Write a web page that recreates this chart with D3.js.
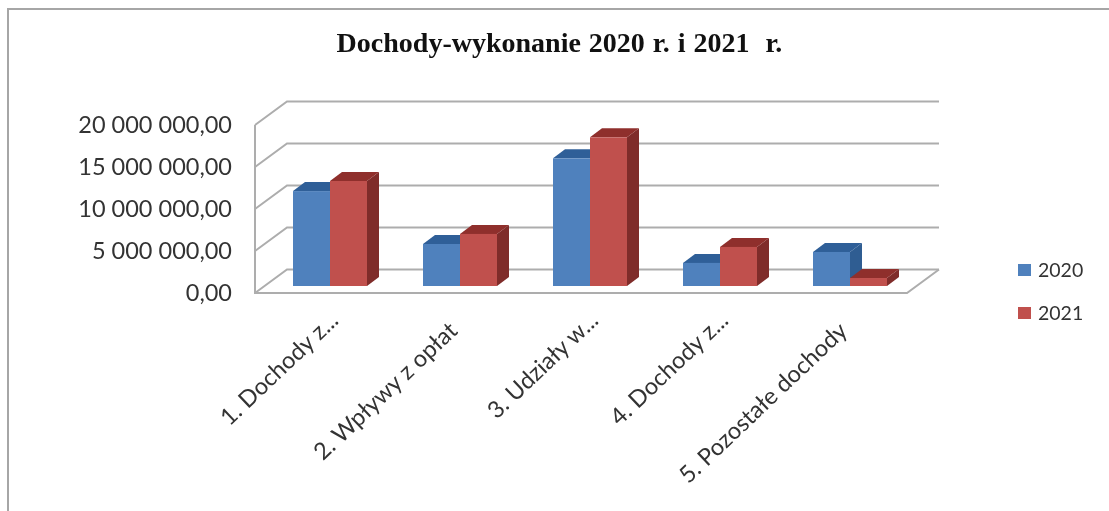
<!DOCTYPE html>
<html>
<head>
<meta charset="utf-8">
<script src="https://cdn.jsdelivr.net/npm/d3@7"></script>
<style>
  html, body { margin: 0; padding: 0; background: #fff; }
  svg { display: block; filter: blur(0.7px); }
  text { font-family: Lato, "Open Sans", sans-serif; fill: #333; }
</style>
</head>
<body>
<div id="container"></div>
<script>
"use strict";

const plotWidth = 1109;
const plotHeight = 511;

const categories = ["1. Dochody z...", "2. Wpływy z opłat", "3. Udziały w...", "4. Dochody z...", "5. Pozostałe dochody"];
const seriesNames = ["2020", "2021"];
const values2020 = [11300000, 5000000, 15200000, 2750000, 4050000];
const values2021 = [12500000, 6200000, 17700000, 4650000, 950000];
const yTicks = [0, 5000000, 10000000, 15000000, 20000000];

const seriesColors = ["#4f81bd", "#c0504d"];
const sideColors = ["#2f5d92", "#7f2c2a"];
const topColors = ["#2f5f98", "#8f2f2c"];
const gridColor = "#adadad";

// depth of the floor and of the bars
const wallDx = 32;
const wallDy = -23.5;
const barDx = 12;
const barDy = -9;
const barShiftX = 10;
const barShiftY = -7;

const svg = d3.select("#container").append("svg")
  .attr("width", plotWidth)
  .attr("height", plotHeight);

// picture frame
svg.append("path")
  .attr("d", `M8,${plotHeight} V9 H${plotWidth}`)
  .attr("fill", "none")
  .attr("stroke", "#a6a6a6")
  .attr("stroke-width", 2);

svg.append("text")
  .attr("x", 559.5)
  .attr("y", 52)
  .attr("text-anchor", "middle")
  .style("font-family", "'Liberation Serif', serif")
  .style("font-weight", "bold")
  .style("font-size", "28px")
  .style("word-spacing", "1px")
  .style("fill", "#111")
  .style("white-space", "pre")
  .text("Dochody-wykonanie 2020 r. i 2021  r.");

const xScale = d3.scaleBand().domain(categories).range([255, 905]);
const yScale = d3.scaleLinear().domain([0, 20000000]).range([293, 125]);
const seriesScale = d3.scaleBand().domain(seriesNames).range([0, 74]);

const locale = d3.formatLocale({ decimal: ",", thousands: " ", grouping: [3], currency: ["", ""] });
const numberFormat = locale.format(",.2f");

// walls: back gridlines and the diagonals on the left wall
const wall = svg.append("g")
  .attr("fill", "none")
  .attr("stroke", gridColor)
  .attr("stroke-width", 2);

yTicks.forEach((t) => {
  const y = yScale(t);
  wall.append("path")
    .attr("d", `M255,${y} L${255 + wallDx},${y + wallDy} H${907 + wallDx}`);
});
wall.append("path").attr("d", `M255,${yScale(20000000)} V${yScale(0)} H907 L${907 + wallDx},${yScale(0) + wallDy}`);

// bars, drawn back to front so that the 2021 side stays on top
const bars = svg.append("g");
categories.forEach((c, i) => {
  [values2020[i], values2021[i]].forEach((v, s) => {
    const x0 = xScale(c) + xScale.bandwidth() / 2 - 37 + barShiftX + seriesScale(seriesNames[s]);
    const x1 = x0 + seriesScale.bandwidth();
    const y0 = yScale(0) + barShiftY;
    const y1 = yScale(v) + barShiftY;
    bars.append("path")
      .attr("fill", sideColors[s])
      .attr("d", `M${x1},${y0} L${x1 + barDx},${y0 + barDy} V${y1 + barDy} L${x1},${y1} Z`);
    bars.append("path")
      .attr("fill", topColors[s])
      .attr("d", `M${x0},${y1} L${x0 + barDx},${y1 + barDy} H${x1 + barDx} L${x1},${y1} Z`);
    bars.append("rect")
      .attr("x", x0)
      .attr("y", y1)
      .attr("width", x1 - x0)
      .attr("height", y0 - y1)
      .attr("fill", seriesColors[s]);
  });
});

const yAxis = d3.axisLeft(yScale).tickValues(yTicks).tickFormat(numberFormat).tickSize(0).tickPadding(23);
const yGroup = svg.append("g").attr("transform", "translate(255, 0)").call(yAxis);
yGroup.select(".domain").remove();
yGroup.selectAll("text").style("font-size", "23.5px").attr("dy", "0.32em");

const xAxis = d3.axisBottom(xScale).tickSize(0);
const xGroup = svg.append("g").attr("transform", "translate(0, 293)").call(xAxis);
xGroup.select(".domain").remove();
xGroup.selectAll("text")
  .style("font-size", "23.5px")
  .attr("text-anchor", "end")
  .attr("transform", "translate(10, 19) rotate(-43.5)")
  // labels that are not cut short sit a little further down the slope
  .attr("dx", (d) => (d.endsWith("...") ? 0 : -15))
  .attr("dy", "0.6em")
  .attr("y", 0);

const legend = svg.append("g");
seriesNames.forEach((name, i) => {
  const row = legend.append("g").attr("transform", `translate(1018, ${270 + i * 43})`);
  row.append("rect").attr("x", 0).attr("y", -6).attr("width", 13).attr("height", 12).attr("fill", seriesColors[i]);
  row.append("text").attr("x", 20).attr("y", 7).style("font-size", "19.5px").text(name);
});
</script>
</body>
</html>
